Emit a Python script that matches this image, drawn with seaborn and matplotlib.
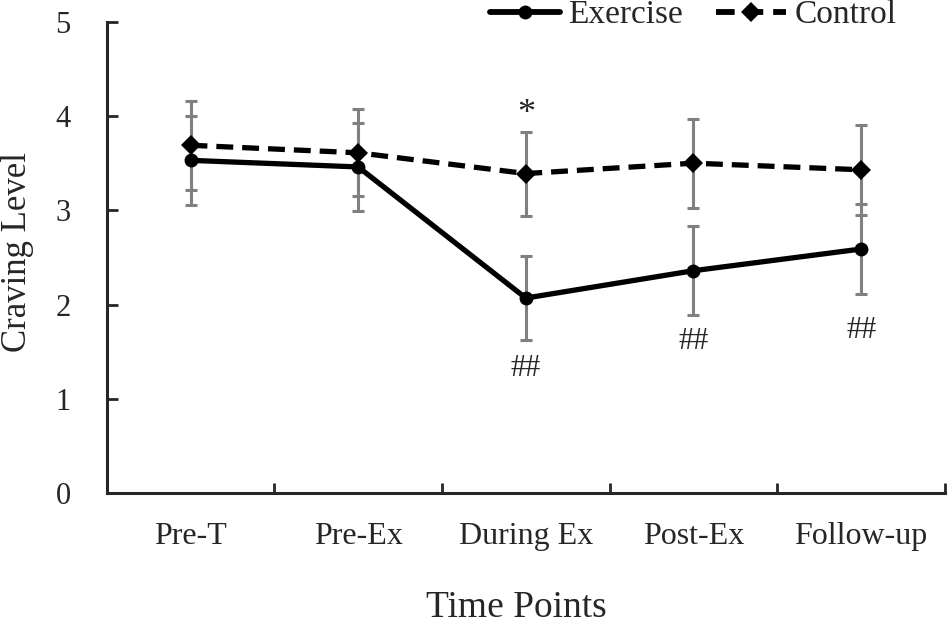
import matplotlib
matplotlib.use("Agg")
import matplotlib.pyplot as plt
import seaborn as sns
import pandas as pd

# data
time_points = ["Pre-T", "Pre-Ex", "During Ex", "Post-Ex", "Follow-up"]
exercise_mean = [3.53, 3.46, 2.07, 2.36, 2.59]
exercise_sd = [0.47, 0.47, 0.445, 0.47, 0.48]
control_mean = [3.69, 3.61, 3.39, 3.50, 3.43]
control_sd = [0.47, 0.46, 0.445, 0.47, 0.48]

# significance marks
star_points = ["During Ex"]
star_y = [3.93]
hash_points = ["During Ex", "Post-Ex", "Follow-up"]
hash_y = [1.245, 1.53, 1.65]

sns.set_style("ticks")
plt.rcParams['font.family'] = ['Liberation Serif', 'DejaVu Serif']

df = pd.DataFrame({
    'Time': time_points * 2,
    'Craving': exercise_mean + control_mean,
    'Group': ['Exercise'] * 5 + ['Control'] * 5,
})

fig = plt.figure(figsize=(9.5, 6.25), dpi=100)
ax = fig.add_axes([0.1123, 0.2107, 0.8824, 0.7546])

# error bars first so lines sit on top
ax.errorbar(time_points, exercise_mean, yerr=exercise_sd, fmt='none',
            ecolor='#808080', elinewidth=2.2, capsize=4, capthick=2.2, zorder=1)
ax.errorbar(time_points, control_mean, yerr=control_sd, fmt='none',
            ecolor='#808080', elinewidth=2.2, capsize=4, capthick=2.2, zorder=1)

sns.lineplot(data=df, x='Time', y='Craving', style='Group', color='black',
             markers={'Exercise': 'o', 'Control': 'D'},
             dashes={'Exercise': '', 'Control': (3.2, 1.7)},
             linewidth=3.8, markersize=10, markeredgewidth=0, ax=ax, zorder=3,
             sort=False)

for p, y in zip(star_points, star_y):
    ax.text(p, y, "*", ha='center', va='baseline', fontsize=26)
for p, y in zip(hash_points, hash_y):
    ax.text(p, y, "##", ha='center', va='baseline', fontsize=22)

ax.set_xlim(-0.5, 4.5)
ax.set_ylim(0, 5)
ax.set_yticks([0, 1, 2, 3, 4, 5])

# Excel-style ticks between categories
ax.set_xticks(range(5))
ax.set_xticklabels(time_points)
ax.set_xticks([0.5, 1.5, 2.5, 3.5, 4.5], minor=True)
ax.tick_params(axis='x', which='major', length=0, pad=21, labelsize=23)
ax.tick_params(axis='x', which='minor', direction='in', length=7, width=2)
ax.tick_params(axis='y', direction='in', length=8, width=2, pad=26, labelsize=22)

for s in ['top', 'right']:
    ax.spines[s].set_visible(False)
for s in ['left', 'bottom']:
    ax.spines[s].set_linewidth(2.2)

ax.set_xlabel('Time Points', fontsize=27)
ax.xaxis.set_label_coords(0.489, -0.2617)
ax.xaxis.label.set_va('baseline')
ax.set_ylabel('Craving Level', fontsize=25)
ax.yaxis.set_label_coords(-0.1058, 0.512)
ax.yaxis.label.set_va('center')

handles, labels = ax.get_legend_handles_labels()
ax.get_legend().remove()
for h in handles:
    h.set_linewidth(4.2)
    h.set_markersize(10)
fig.legend(handles, labels, loc='center left', bbox_to_anchor=(490 / 950, 1 - 15 / 625),
           ncol=2, frameon=False, fontsize=24, handlelength=2.1, handletextpad=0.25,
           columnspacing=1.0, borderpad=0, borderaxespad=0)

fig.savefig('out.png', dpi=100)
